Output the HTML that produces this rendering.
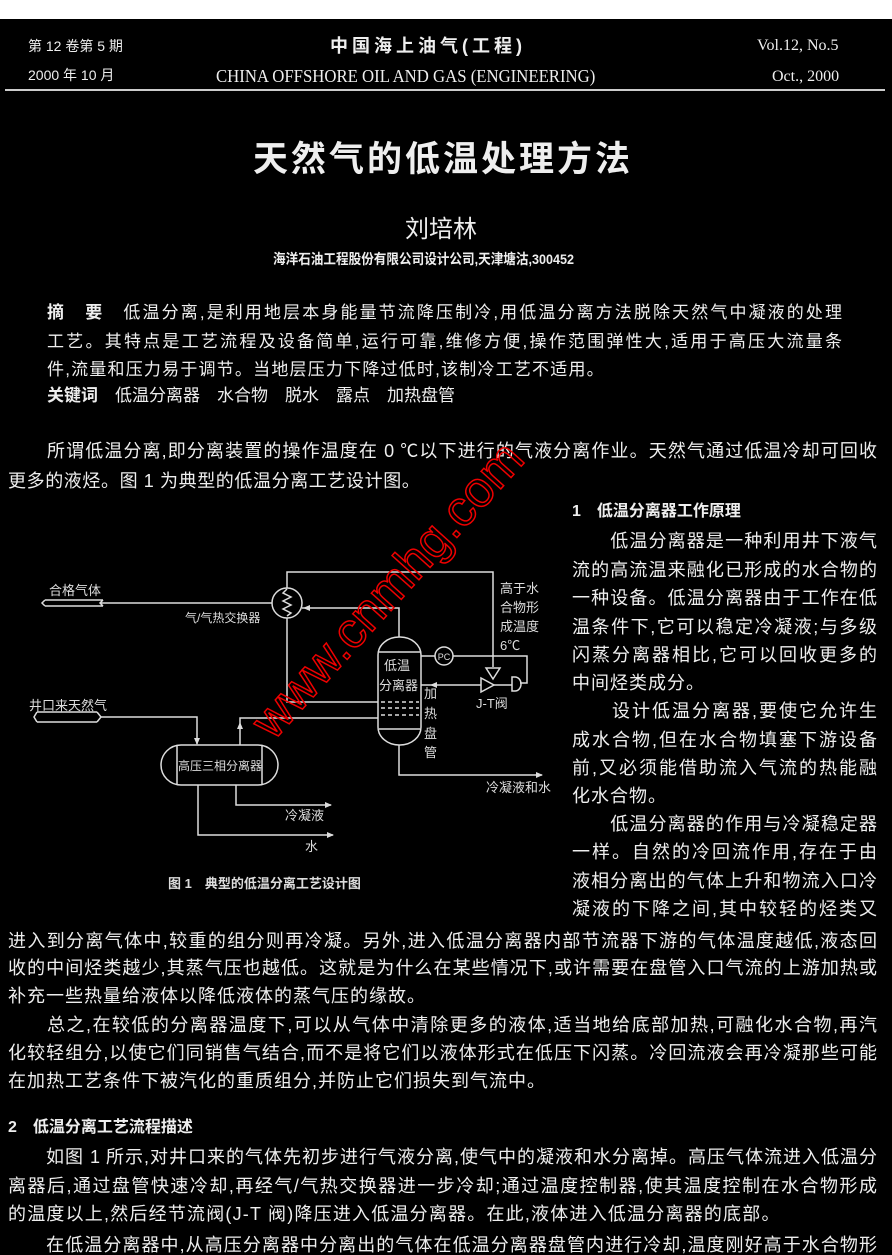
<!DOCTYPE html>
<html><head><meta charset="utf-8">
<style>
html,body{margin:0;padding:0;}
body{width:892px;height:1249px;background:#000;position:relative;overflow:hidden;color:#eee;font-family:"Liberation Sans","Noto Sans CJK SC",sans-serif;}
.t{position:absolute;white-space:nowrap;line-height:1;}
.j{position:absolute;white-space:nowrap;line-height:1;text-align:justify;text-align-last:justify;font-size:18px;}
.b{font-weight:bold;}
.top{position:absolute;left:0;top:0;width:892px;height:19px;background:#fff;}
</style></head><body>
<div class="top"></div>
<div class="t" style="left:28px;top:39px;font-size:14px;">第 12 卷第 5 期</div>
<div class="t" style="left:28px;top:68px;font-size:14px;">2000 年 10 月</div>
<div class="t b" style="left:330px;top:37px;font-size:18px;letter-spacing:4px;">中国海上油气(工程)</div>
<div class="t" style="left:216px;top:67px;font-size:18px;font-family:'Liberation Serif',serif;transform:scaleX(0.93);transform-origin:left;">CHINA OFFSHORE OIL AND GAS (ENGINEERING)</div>
<div class="t" style="left:757px;top:38px;font-size:16px;font-family:'Liberation Serif',serif;">Vol.12, No.5</div>
<div class="t" style="left:772px;top:69px;font-size:16px;font-family:'Liberation Serif',serif;">Oct., 2000</div>
<div style="position:absolute;left:5px;top:89px;width:880px;height:2px;background:#ccc;"></div>

<div class="t b" style="left:253px;top:142px;font-size:35px;letter-spacing:3px;">天然气的低温处理方法</div>
<div class="t" style="left:405px;top:218px;font-size:24px;">刘培林</div>
<div class="t b" style="left:273px;top:252px;font-size:14px;transform:scaleX(0.9);transform-origin:left;">海洋石油工程股份有限公司设计公司,天津塘沽,300452</div>

<div class="j" style="left:47px;top:304px;width:795px;font-size:17px;"><b>摘　要</b>　低温分离,是利用地层本身能量节流降压制冷,用低温分离方法脱除天然气中凝液的处理</div>
<div class="j" style="left:47px;top:333px;width:795px;font-size:17px;">工艺。其特点是工艺流程及设备简单,运行可靠,维修方便,操作范围弹性大,适用于高压大流量条</div>
<div class="t" style="left:47px;top:361px;font-size:17px;letter-spacing:1.2px;">件,流量和压力易于调节。当地层压力下降过低时,该制冷工艺不适用。</div>
<div class="t" style="left:47px;top:387px;font-size:17px;"><b>关键词</b>　低温分离器　水合物　脱水　露点　加热盘管</div>

<div class="j" style="left:47px;top:442px;width:830px;">所谓低温分离,即分离装置的操作温度在 0 ℃以下进行的气液分离作业。天然气通过低温冷却可回收</div>
<div class="t" style="left:8px;top:472px;font-size:18px;letter-spacing:0.6px;">更多的液烃。图 1 为典型的低温分离工艺设计图。</div>

<div class="t b" style="left:572px;top:504px;font-size:16px;">1　低温分离器工作原理</div>
<div class="j" style="left:572px;top:532px;width:305px;">　　低温分离器是一种利用井下液气</div>
<div class="j" style="left:572px;top:561px;width:305px;">流的高流温来融化已形成的水合物的</div>
<div class="j" style="left:572px;top:589px;width:305px;">一种设备。低温分离器由于工作在低</div>
<div class="j" style="left:572px;top:618px;width:305px;">温条件下,它可以稳定冷凝液;与多级</div>
<div class="j" style="left:572px;top:646px;width:305px;">闪蒸分离器相比,它可以回收更多的</div>
<div class="t" style="left:572px;top:674px;font-size:18px;letter-spacing:1px;">中间烃类成分。</div>
<div class="j" style="left:572px;top:702px;width:305px;">　　设计低温分离器,要使它允许生</div>
<div class="j" style="left:572px;top:731px;width:305px;">成水合物,但在水合物填塞下游设备</div>
<div class="j" style="left:572px;top:759px;width:305px;">前,又必须能借助流入气流的热能融</div>
<div class="t" style="left:572px;top:787px;font-size:18px;letter-spacing:1px;">化水合物。</div>
<div class="j" style="left:572px;top:815px;width:305px;">　　低温分离器的作用与冷凝稳定器</div>
<div class="j" style="left:572px;top:843px;width:305px;">一样。自然的冷回流作用,存在于由</div>
<div class="j" style="left:572px;top:872px;width:305px;">液相分离出的气体上升和物流入口冷</div>
<div class="j" style="left:572px;top:900px;width:305px;">凝液的下降之间,其中较轻的烃类又</div>

<div class="j" style="left:8px;top:932px;width:869px;">进入到分离气体中,较重的组分则再冷凝。另外,进入低温分离器内部节流器下游的气体温度越低,液态回</div>
<div class="j" style="left:8px;top:959px;width:869px;">收的中间烃类越少,其蒸气压也越低。这就是为什么在某些情况下,或许需要在盘管入口气流的上游加热或</div>
<div class="t" style="left:8px;top:987px;font-size:18px;letter-spacing:1px;">补充一些热量给液体以降低液体的蒸气压的缘故。</div>
<div class="j" style="left:8px;top:1016px;width:869px;">　　总之,在较低的分离器温度下,可以从气体中清除更多的液体,适当地给底部加热,可融化水合物,再汽</div>
<div class="j" style="left:8px;top:1044px;width:869px;">化较轻组分,以使它们同销售气结合,而不是将它们以液体形式在低压下闪蒸。冷回流液会再冷凝那些可能</div>
<div class="t" style="left:8px;top:1072px;font-size:18px;letter-spacing:1px;">在加热工艺条件下被汽化的重质组分,并防止它们损失到气流中。</div>
<div class="t b" style="left:8px;top:1120px;font-size:16px;">2　低温分离工艺流程描述</div>
<div class="j" style="left:8px;top:1148px;width:869px;">　　如图 1 所示,对井口来的气体先初步进行气液分离,使气中的凝液和水分离掉。高压气体流进入低温分</div>
<div class="j" style="left:8px;top:1177px;width:869px;">离器后,通过盘管快速冷却,再经气/气热交换器进一步冷却;通过温度控制器,使其温度控制在水合物形成</div>
<div class="t" style="left:8px;top:1205px;font-size:18px;letter-spacing:1.2px;">的温度以上,然后经节流阀(J-T 阀)降压进入低温分离器。在此,液体进入低温分离器的底部。</div>
<div class="j" style="left:8px;top:1236px;width:869px;">　　在低温分离器中,从高压分离器中分离出的气体在低温分离器盘管内进行冷却,温度刚好高于水合物形</div>

<svg style="position:absolute;left:0;top:0" width="892" height="1249" viewBox="0 0 892 1249">
<g stroke="#ddd" stroke-width="1.5" fill="none">
<path d="M287,588 V572 H493 V667"/>
<circle cx="287" cy="603" r="15"/>
<path d="M287,589 l-4,4 l8,4 l-8,4 l8,4 l-8,4 l8,4 l-4,3"/>
<path d="M45,600 H103 M45,606 H103 M45,600 l-3,3 l3,3 M103,600 l-3,3 l3,3"/>
<path d="M100,603 H272"/>
<path d="M399,637 V608 H302"/>
<path d="M287,618 V702 H378"/>
<rect x="378" y="637" width="43" height="108" rx="21" ry="18"/>
<path d="M379,652 H420 M379,729 H420"/>
<path d="M381,702 H419 M381,708 H419 M381,715 H419" stroke-dasharray="4,3"/>
<circle cx="444" cy="656" r="9"/>
<path d="M421,656 H435 M453,656 H527 V683 H520"/>
<path d="M512,677 h3 a6,7 0 0 1 0,14 h-3 z"/>
<path d="M421,685 H481 M494,685 H512"/>
<polygon points="486,668 500,668 493,679"/>
<polygon points="481,678 481,692 494,685"/>
<path d="M37,712 H97 M37,722 H97 M37,712 l-3,5 l3,5 M97,712 l4,5 l-4,5"/>
<path d="M101,717 H197 V744"/>
<rect x="161" y="745" width="117" height="40" rx="20"/>
<path d="M177,746 V784 M262,746 V784"/>
<path d="M240,745 V718 H378"/>
<path d="M399,745 V775 H542"/>
<path d="M236,785 V805 H331"/>
<path d="M198,785 V835 H333"/>
</g>
<g fill="#ddd">
<polygon points="303,608 310,605 310,611"/>
<polygon points="430,685 437,682 437,688"/>
<polygon points="197,745 194,738 200,738"/>
<polygon points="240,722 237,729 243,729"/>
<polygon points="543,775 536,772 536,778"/>
<polygon points="332,805 325,802 325,808"/>
<polygon points="334,835 327,832 327,838"/>
</g>
<g fill="#ddd" font-family="Liberation Sans,Noto Sans CJK SC,sans-serif" font-size="13">
<text x="444" y="660" font-size="9" text-anchor="middle">PC</text>
<text x="49" y="595">合格气体</text>
<text x="185" y="622" font-size="12">气/气热交换器</text>
<text x="500" y="593">高于水</text>
<text x="500" y="612">合物形</text>
<text x="500" y="631">成温度</text>
<text x="500" y="650">6℃</text>
<text x="384" y="670">低温</text>
<text x="379" y="690">分离器</text>
<text x="424" y="698">加</text>
<text x="424" y="718">热</text>
<text x="424" y="738">盘</text>
<text x="424" y="757">管</text>
<text x="476" y="708">J-T阀</text>
<text x="29" y="710">井口来天然气</text>
<text x="178" y="770" font-size="12">高压三相分离器</text>
<text x="486" y="792">冷凝液和水</text>
<text x="285" y="820">冷凝液</text>
<text x="305" y="851">水</text>
<text x="168" y="888" font-weight="bold">图 1　典型的低温分离工艺设计图</text>
</g>
</svg>
<div class="t" style="left:272px;top:700px;font-size:50px;color:transparent;-webkit-text-stroke:1.5px #e00;transform:rotate(-48deg);transform-origin:0 40px;font-family:'Liberation Sans',sans-serif;">www.cnmhg.com</div>
</body></html>
